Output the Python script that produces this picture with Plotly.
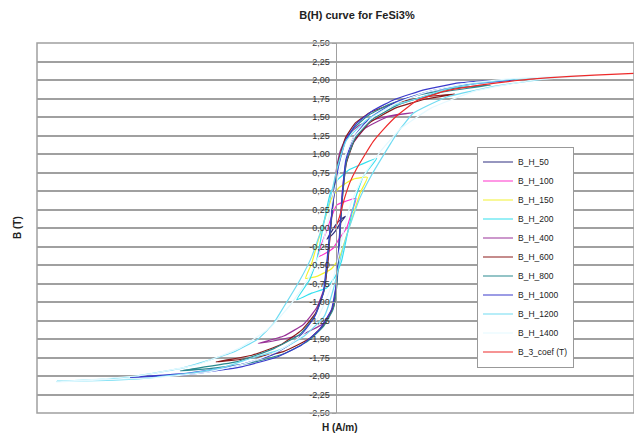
import plotly.graph_objects as go

# ---- data (H in A/m, B in T) ----
H_50 = [50, 20, 0, -20, -43, -20, 0, 20, 50]
B_50 = [0.16, 0.10, 0.04, -0.05, -0.15, -0.10, -0.04, 0.05, 0.16]

H_100 = [103, 50, 6, -20, -44, -70, -90, -50, -11, 20, 56, 80, 103]
B_100 = [0.40, 0.36, 0.31, 0.15, -0.03, -0.22, -0.39, -0.34, -0.27, -0.14, 0.0, 0.20, 0.40]

H_150 = [160, 90, 20, -20, -50, -85, -120, -150, -90, -20, 20, 50, 85, 125, 160]
B_150 = [0.685, 0.66, 0.55, 0.40, 0.15, -0.15, -0.48, -0.68, -0.65, -0.55, -0.40, -0.15, 0.15, 0.48, 0.685]

H_200 = [207, 130, 70, 10, -28, -60, -94, -130, -195, -120, -45, 0, 30, 62, 100, 140, 207]
B_200 = [0.94, 0.86, 0.79, 0.65, 0.45, 0.05, -0.43, -0.70, -0.97, -0.88, -0.81, -0.65, -0.45, -0.05, 0.40, 0.70, 0.94]

H_400 = [391, 300, 200, 120, 60, 25, 5, -12, -25, -37, -55, -95, -160, -260, -388,
         -300, -178, -61, -15, 2, 12, 22, 33, 50, 85, 150, 260, 391]
B_400 = [1.56, 1.53, 1.47, 1.39, 1.25, 1.05, 0.80, 0.40, 0.0, -0.40, -0.80, -1.08, -1.30, -1.46, -1.56,
         -1.52, -1.45, -1.29, -1.08, -0.82, -0.45, 0.0, 0.45, 0.85, 1.13, 1.35, 1.50, 1.56]

H_600 = [600, 450, 300, 180, 100, 50, 15, -8, -24, -38, -58, -100, -170, -270, -420, -600,
         -430, -262, -128, -50, -8, 6, 15, 24, 36, 55, 95, 170, 300, 450, 600]
B_600 = [1.81, 1.77, 1.69, 1.57, 1.42, 1.22, 0.90, 0.45, 0.0, -0.45, -0.85, -1.15, -1.38, -1.57, -1.72, -1.81,
         -1.76, -1.67, -1.49, -1.28, -1.05, -0.75, -0.40, 0.0, 0.45, 0.88, 1.18, 1.42, 1.62, 1.74, 1.81]

H_800 = [780, 600, 420, 280, 170, 95, 45, 12, -10, -25, -40, -58, -100, -180, -310, -500, -780,
         -600, -420, -260, -140, -60, -12, 6, 16, 24, 36, 55, 100, 180, 320, 520, 780]
B_800 = [1.93, 1.89, 1.80, 1.68, 1.53, 1.36, 1.15, 0.85, 0.42, 0.0, -0.42, -0.85, -1.17, -1.44, -1.63, -1.81, -1.93,
         -1.89, -1.82, -1.70, -1.53, -1.33, -1.10, -0.80, -0.40, 0.0, 0.45, 0.90, 1.22, 1.46, 1.67, 1.83, 1.93]

H_1000 = [900, 760, 620, 450, 300, 190, 105, 50, 14, -10, -27, -42, -62, -105, -190, -320, -500, -740, -1030,
          -850, -680, -480, -300, -170, -80, -20, 4, 14, 23, 34, 52, 90, 170, 300, 480, 700, 900]
B_1000 = [2.00, 1.99, 1.96, 1.87, 1.74, 1.59, 1.41, 1.18, 0.82, 0.40, 0.0, -0.42, -0.88, -1.20, -1.50, -1.72, -1.86, -1.96, -2.02,
          -2.00, -1.96, -1.88, -1.75, -1.58, -1.37, -1.10, -0.75, -0.38, 0.0, 0.45, 0.92, 1.22, 1.48, 1.70, 1.85, 1.95, 2.00]

H_1200 = [1100, 1000, 894, 700, 560, 425, 274, 157, 56, 6, -28, -61, -120, -178, -279, -314, -389, -515, -766, -1000, -1200, -1400,
          -1150, -950, -700, -560, -425, -274, -157, -56, -6, 28, 61, 120, 178, 279, 314, 391, 559, 810, 960, 1100]
B_1200 = [2.03, 2.02, 2.01, 1.95, 1.88, 1.76, 1.64, 1.46, 1.19, 0.78, 0.38, 0.06, -0.39, -0.70, -1.15, -1.30, -1.50, -1.68, -1.89, -2.00, -2.05, -2.07,
          -2.06, -2.03, -1.95, -1.88, -1.76, -1.64, -1.46, -1.19, -0.78, -0.38, -0.06, 0.39, 0.70, 1.15, 1.30, 1.55, 1.77, 1.92, 1.98, 2.03]

H_1400 = [1300, 1150, 900, 650, 450, 300, 180, 90, 30, -10, -40, -80, -140, -230, -330, -480, -700, -1000, -1400,
          -1150, -900, -650, -450, -300, -180, -90, -30, 10, 40, 80, 140, 230, 330, 480, 700, 1000, 1300]
B_1400 = [2.06, 2.05, 2.02, 1.95, 1.83, 1.68, 1.48, 1.22, 0.85, 0.45, 0.05, -0.35, -0.70, -1.05, -1.35, -1.62, -1.85, -2.00, -2.08,
          -2.05, -2.02, -1.95, -1.83, -1.68, -1.48, -1.22, -0.85, -0.45, -0.05, 0.35, 0.70, 1.05, 1.35, 1.62, 1.85, 2.00, 2.06]

H_coef = [0, 20, 45, 73, 106, 150, 190, 240, 310, 408, 550, 726, 900, 1061, 1300, 1500]
B_coef = [0.0, 0.15, 0.40, 0.62, 0.80, 1.00, 1.17, 1.33, 1.52, 1.72, 1.85, 1.93, 1.99, 2.03, 2.065, 2.09]

series_names = ["B_H_50", "B_H_100", "B_H_150", "B_H_200", "B_H_400", "B_H_600",
                "B_H_800", "B_H_1000", "B_H_1200", "B_H_1400", "B_3_coef (T)"]
series_H = [H_50, H_100, H_150, H_200, H_400, H_600, H_800, H_1000, H_1200, H_1400, H_coef]
series_B = [B_50, B_100, B_150, B_200, B_400, B_600, B_800, B_1000, B_1200, B_1400, B_coef]
colors = ["#2e2e80", "#ff33cc", "#f2f230", "#33e0ee", "#993399", "#8b1a1a",
          "#2a8a8f", "#3a3acc", "#70dcf2", "#e4f9ff", "#ee2a2a"]

y_ticks = [-2.5 + 0.25 * i for i in range(21)]
y_text = [("%.2f" % v).replace(".", ",").replace("-0,00", "0,00") for v in y_ticks]

fig = go.Figure()
for name, hx, by, c in zip(series_names, series_H, series_B, colors):
    fig.add_trace(go.Scatter(x=hx, y=by, mode="lines", name=name,
                             line=dict(color=c, width=1.2, shape="spline", smoothing=0.4)))

# page body has an 8px margin, so the figure is shrunk by that amount
fig.update_layout(
    width=634, height=431,
    margin=dict(l=29, r=8, t=35, b=26, autoexpand=False),
    paper_bgcolor="white", plot_bgcolor="white",
    font=dict(family="Liberation Sans, Arial, sans-serif", size=10, color="#222"),
    title=dict(text="<b>B(H) curve for FeSi3%</b>", xref="paper", x=0.536, xanchor="center",
               yref="container", y=0.984, yanchor="middle",
               font=dict(size=11, color="#222")),
    showlegend=True,
    legend=dict(x=0.737, y=0.4216, xanchor="left", yanchor="middle", bgcolor="white",
                bordercolor="#999", borderwidth=1, font=dict(size=8.5, color="#222"),
                itemwidth=30, tracegroupgap=0),
    xaxis=dict(range=[-1500, 1500], showgrid=False, zeroline=False, showticklabels=False,
               ticks="", showline=False, automargin=False),
    yaxis=dict(range=[-2.5, 2.5], tickvals=y_ticks, ticktext=y_text, showgrid=True,
               gridcolor="#a0a0a0", gridwidth=1.5, zeroline=False, automargin=False,
               anchor="free", position=0.5, showline=True, linecolor="#a0a0a0", linewidth=1,
               ticks="outside", ticklen=4, tickcolor="#a0a0a0",
               tickfont=dict(size=9, color="#333")),
    annotations=[
        dict(text="<b>B (T)</b>", xref="paper", yref="paper", x=-0.0335, y=0.5,
             xanchor="center", yanchor="middle",
             textangle=-90, showarrow=False, font=dict(size=10, color="#222")),
        dict(text="<b>H (A/m)</b>", xref="paper", yref="paper", x=0.5075, y=-0.0405,
             xanchor="center", yanchor="middle", showarrow=False, font=dict(size=10, color="#222")),
    ],
    shapes=[dict(type="rect", xref="paper", yref="paper", x0=0, y0=0, x1=1, y1=1,
                 line=dict(color="#a0a0a0", width=1.5), layer="above")],
)

fig.write_html("out.html")
